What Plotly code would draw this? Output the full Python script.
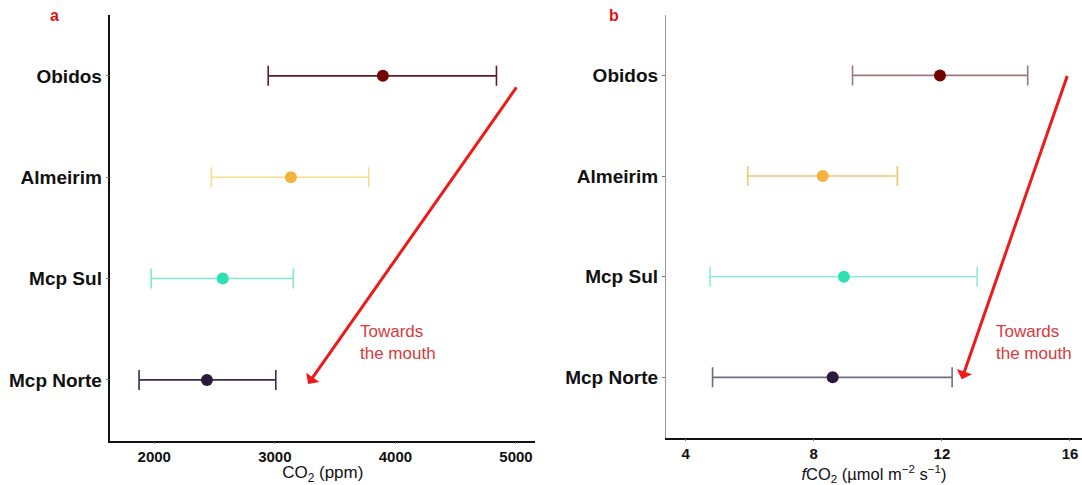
import plotly.graph_objects as go

sites = ["Mcp Norte", "Mcp Sul", "Almeirim", "Obidos"]
site_pos = [1, 2, 3, 4]

co2_mean = [2437, 2568, 3133, 3896]
co2_low = [1874, 1974, 2474, 2945]
co2_high = [3008, 3153, 3779, 4838]

fco2_mean = [8.59, 8.94, 8.28, 11.94]
fco2_low = [4.84, 4.76, 5.94, 9.21]
fco2_high = [12.32, 13.10, 10.61, 14.68]

marker_colors = ["#2b1a3c", "#2fe0b4", "#f3b43e", "#720303"]
bar_colors_a = ["#3a2c4a", "#80e8d2", "#f6dc8e", "#5e1d24"]
bar_colors_b = ["rgba(70,58,90,0.75)", "rgba(60,225,200,0.6)", "rgba(240,185,70,0.8)", "rgba(120,60,70,0.7)"]

# arrows: (start x, start y) -> (tip x, tip y)
arrow_a = [5012, 3.90, 3276, 0.96]
arrow_b = [15.93, 4.01, 12.62, 0.98]
text_a = [3689, 1.365]
text_b = [13.63, 1.35]

FONT = "Liberation Sans, Arial, sans-serif"

fig = go.Figure()

for i in range(4):
    fig.add_trace(go.Scatter(
        x=[co2_mean[i]], y=[site_pos[i]], mode="markers",
        marker=dict(size=12, color=marker_colors[i]),
        error_x=dict(type="data", symmetric=False,
                     array=[co2_high[i] - co2_mean[i]],
                     arrayminus=[co2_mean[i] - co2_low[i]],
                     color=bar_colors_a[i], thickness=1.6, width=10),
        xaxis="x", yaxis="y", showlegend=False))
    fig.add_trace(go.Scatter(
        x=[fco2_mean[i]], y=[site_pos[i]], mode="markers",
        marker=dict(size=12, color=marker_colors[i]),
        error_x=dict(type="data", symmetric=False,
                     array=[fco2_high[i] - fco2_mean[i]],
                     arrayminus=[fco2_mean[i] - fco2_low[i]],
                     color=bar_colors_b[i], thickness=1.6, width=10),
        xaxis="x2", yaxis="y2", showlegend=False))

ytick_font = dict(family=FONT, size=19, color="#111", weight="bold")
xtick_font = dict(family=FONT, size=15, color="#111", weight="bold")
title_font = dict(family=FONT, size=17, color="#111")
title_font_b = dict(family=FONT, size=16.5, color="#111")

common_y = dict(tickvals=site_pos, ticktext=sites, range=[0.4, 4.6],
                showgrid=False, zeroline=False, ticks="outside", ticklen=3,
                tickcolor="#777", tickfont=ytick_font, showline=True)
fig.update_layout(
    width=1082, height=485,
    margin=dict(l=0, r=0, t=0, b=0),
    paper_bgcolor="white", plot_bgcolor="white",
    xaxis=dict(domain=[0.1021, 0.4945], range=[1637, 5158], anchor="y",
               tickvals=[2000, 3000, 4000, 5000], showgrid=False, zeroline=False,
               ticks="outside", ticklen=2, tickcolor="#777", tickfont=xtick_font,
               showline=True, linecolor="#111", linewidth=1.5,
               title=dict(text="CO<sub>2</sub> (ppm)", font=title_font, standoff=6)),
    yaxis=dict(domain=[0.0913, 0.969], anchor="x", linecolor="#111", linewidth=1.5,
               **common_y),
    xaxis2=dict(domain=[0.6155, 1.0], range=[3.385, 16.375], anchor="y2",
                tickvals=[4, 8, 12, 16], showgrid=False, zeroline=False,
                ticks="outside", ticklen=2, tickcolor="#777", tickfont=xtick_font,
                showline=True, linecolor="#111", linewidth=1.5,
                title=dict(text="<i>f</i>CO<sub>2</sub> (µmol m<sup>−2</sup> s<sup>−1</sup>)",
                           font=title_font_b, standoff=10)),
    yaxis2=dict(domain=[0.0975, 0.969], anchor="x2", linecolor="#999", linewidth=1.2,
                **common_y),
)

for (sx, sy, tx, ty), xr, yr in [(arrow_a, "x", "y"), (arrow_b, "x2", "y2")]:
    fig.add_annotation(x=tx, y=ty, ax=sx, ay=sy, xref=xr, yref=yr, axref=xr, ayref=yr,
                       text="", showarrow=True, arrowhead=1, arrowsize=0.9,
                       arrowwidth=3, arrowcolor="#ee1a1a")

for (tx, ty), xr, yr in [(text_a, "x", "y"), (text_b, "x2", "y2")]:
    fig.add_annotation(x=tx, y=ty, xref=xr, yref=yr, text="Towards<br>the mouth",
                       showarrow=False, xanchor="left", yanchor="middle", align="left",
                       font=dict(family=FONT, size=17, color="#d63a3a"))

for lab, px in [("a", 54), ("b", 614)]:
    fig.add_annotation(x=px / 1082, y=1 - 16 / 485, xref="paper", yref="paper", text=lab,
                       showarrow=False, xanchor="center", yanchor="middle",
                       font=dict(family=FONT, size=16, color="#e01010", weight="bold"))

fig.write_html("out.html")
